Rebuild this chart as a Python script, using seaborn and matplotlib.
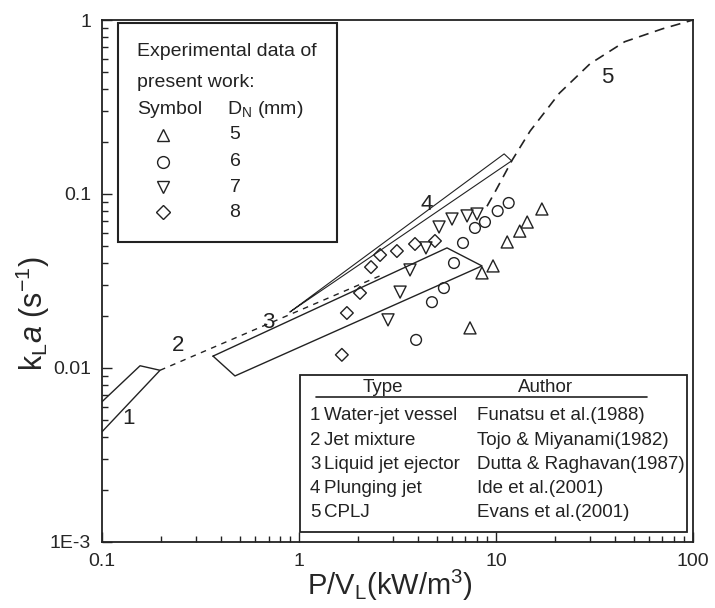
import numpy as np
import pandas as pd
import matplotlib
matplotlib.use("Agg")
import matplotlib.pyplot as plt
import seaborn as sns
from matplotlib.patches import Rectangle
from matplotlib.ticker import FixedLocator, FixedFormatter, LogLocator, NullFormatter

# ---------------- data ----------------
# Experimental data of present work, D_N = 5, 6, 7, 8 mm
tri_up_x = [7.38, 9.66, 8.49, 11.4, 13.2, 14.4, 17.1]
tri_up_y = [0.017, 0.0386, 0.0352, 0.053, 0.0612, 0.069, 0.082]
circ_x = [3.93, 4.73, 5.44, 6.12, 6.80, 7.82, 8.79, 10.2, 11.6]
circ_y = [0.0145, 0.0239, 0.0288, 0.0401, 0.0523, 0.0638, 0.069, 0.0798, 0.0888]
tri_dn_x = [2.83, 3.26, 3.66, 4.41, 5.14, 5.98, 7.13, 8.01]
tri_dn_y = [0.0189, 0.0273, 0.0366, 0.049, 0.0646, 0.0718, 0.0748, 0.0767]
dia_x = [1.65, 1.75, 2.04, 2.32, 2.58, 3.14, 3.88, 4.90]
dia_y = [0.0119, 0.0207, 0.027, 0.038, 0.0446, 0.047, 0.0516, 0.0537]

# Literature correlations (regions / lines)
r1_x = [0.1, 0.156, 0.197, 0.1]
r1_y = [0.0064, 0.0103, 0.0097, 0.0043]
l2_x = [0.197, 2.6]
l2_y = [0.0097, 0.034]
r3_x = [0.366, 5.64, 8.49, 0.473, 0.366]
r3_y = [0.0117, 0.049, 0.0386, 0.0090, 0.0117]
r4_x = [0.9, 11.0, 12.0, 0.9]
r4_y = [0.021, 0.17, 0.155, 0.021]
l5_x = [9.0, 9.9, 12.1, 14.9, 21.0, 30.0, 45.0, 70.0, 100.0]
l5_y = [0.085, 0.103, 0.157, 0.23, 0.38, 0.56, 0.75, 0.89, 1.0]

region_labels = ["1", "2", "3", "4", "5"]
region_label_x = [0.1356, 0.243, 0.697, 4.45, 36.5]
region_label_y = [0.0051, 0.0135, 0.0182, 0.0865, 0.47]

legend_symbols = ["^", "o", "v", "D"]
legend_dn = ["5", "6", "7", "8"]

table_num = ["1", "2", "3", "4", "5"]
table_type = ["Water-jet vessel", "Jet mixture", "Liquid jet ejector",
              "Plunging jet", "CPLJ"]
table_author = ["Funatsu et al.(1988)", "Tojo & Miyanami(1982)",
                "Dutta & Raghavan(1987)", "Ide et al.(2001)", "Evans et al.(2001)"]

x_ticks = [0.1, 1, 10, 100]
x_ticklabels = ["0.1", "1", "10", "100"]
y_ticks = [1e-3, 1e-2, 1e-1, 1]
y_ticklabels = ["1E-3", "0.01", "0.1", "1"]

# ---------------- style ----------------
sns.set_theme(style="ticks")
plt.rcParams["font.family"] = ["Liberation Sans", "DejaVu Sans"]
plt.rcParams["mathtext.fontset"] = "custom"
plt.rcParams["mathtext.rm"] = "Liberation Sans"
plt.rcParams["mathtext.it"] = "Liberation Sans:italic"
plt.rcParams["mathtext.bf"] = "Liberation Sans:bold"
plt.rcParams["text.color"] = "#222222"

fig = plt.figure(figsize=(7.15, 6.08), dpi=100)
ax = fig.add_axes([0.1427, 0.1086, 0.8265, 0.8585])
ax.set_xscale("log")
ax.set_yscale("log")
ax.set_xlim(0.1, 100)
ax.set_ylim(1e-3, 1)

# ---------------- lines ----------------
lk = dict(color="#222222", estimator=None, sort=False, ax=ax, legend=False)
sns.lineplot(x=r1_x, y=r1_y, lw=1.0, **lk)
sns.lineplot(x=l2_x, y=l2_y, lw=1.0, linestyle=(0, (4, 4)), **lk)
sns.lineplot(x=r3_x, y=r3_y, lw=1.0, **lk)
sns.lineplot(x=r4_x, y=r4_y, lw=0.8, **lk)
sns.lineplot(x=l5_x, y=l5_y, lw=1.2, linestyle=(0, (6, 4)), **lk)

# ---------------- points ----------------
groups = [
    (tri_up_x, tri_up_y, "^", 75),
    (circ_x, circ_y, "o", 60),
    (tri_dn_x, tri_dn_y, "v", 75),
    (dia_x, dia_y, "D", 42),
]
for gx, gy, mk, s in groups:
    df = pd.DataFrame({"x": gx, "y": gy})
    sns.scatterplot(data=df, x="x", y="y", marker=mk, s=s, ax=ax,
                    facecolors="none", edgecolors="#222222", linewidths=1.0,
                    legend=False)

# region number labels
for t, xx, yy in zip(region_labels, region_label_x, region_label_y):
    ax.text(xx, yy, t, fontsize=16, ha="center", va="center")

# ---------------- axes styling ----------------
ax.xaxis.set_major_locator(FixedLocator(x_ticks))
ax.xaxis.set_major_formatter(FixedFormatter(x_ticklabels))
ax.yaxis.set_major_locator(FixedLocator(y_ticks))
ax.yaxis.set_major_formatter(FixedFormatter(y_ticklabels))
ax.xaxis.set_minor_locator(LogLocator(base=10, subs=np.arange(2, 10)))
ax.yaxis.set_minor_locator(LogLocator(base=10, subs=np.arange(2, 10)))
ax.xaxis.set_minor_formatter(NullFormatter())
ax.yaxis.set_minor_formatter(NullFormatter())
ax.tick_params(which="both", direction="in", top=False, right=False,
               color="#222222", width=1.0)
ax.tick_params(which="major", length=7, labelsize=14, pad=8)
ax.tick_params(which="minor", length=4)
for sp in ax.spines.values():
    sp.set_linewidth(1.3)
    sp.set_color("#222222")

ax.set_xlabel(r"P/V$_\mathrm{L}$(kW/m$^\mathrm{3}$)", fontsize=21)
ax.set_ylabel(r"k$_\mathrm{L}$$\mathit{a}$ (s$^\mathrm{-1}$)", fontsize=22)
ax.xaxis.set_label_coords(0.487, -0.05)
ax.yaxis.set_label_coords(-0.085, 0.437)

# ---------------- legend box (top-left) ----------------
T = ax.transAxes
ax.add_patch(Rectangle((0.027, 0.575), 0.371, 0.419, transform=T,
                       fill=False, lw=1.5, ec="#222222", zorder=5))
ax.text(0.0592, 0.939, "Experimental data of", transform=T, fontsize=14,
        va="center", ha="left")
ax.text(0.0592, 0.881, "present work:", transform=T, fontsize=14,
        va="center", ha="left")
ax.text(0.0592, 0.828, "Symbol", transform=T, fontsize=14, va="center", ha="left")
ax.text(0.2115, 0.828, r"D$_\mathrm{N}$ (mm)", transform=T, fontsize=14,
        va="center", ha="left")
rows_y = [0.780, 0.728, 0.680, 0.632]
for mk, dn, ry in zip(legend_symbols, legend_dn, rows_y):
    ax.plot([0.103], [ry], transform=T, marker=mk, ms=7 if mk == "D" else 8.5,
            mfc="none", mec="#222222", mew=1.0, ls="none", clip_on=False)
    ax.text(0.225, ry, dn, transform=T, fontsize=14, va="center", ha="center")

# ---------------- table (bottom-right) ----------------
ax.add_patch(Rectangle((0.335, 0.019), 0.655, 0.301, transform=T,
                       fill=False, lw=1.3, ec="#222222", zorder=5))
ax.text(0.475, 0.295, "Type", transform=T, fontsize=13.5, va="center", ha="center")
ax.text(0.75, 0.295, "Author", transform=T, fontsize=13.5, va="center", ha="center")
ax.plot([0.362, 0.922], [0.278, 0.278], transform=T, color="#222222", lw=1.2)
tab_y = [0.243, 0.195, 0.148, 0.103, 0.057]
for n, ty, au, yy in zip(table_num, table_type, table_author, tab_y):
    ax.text(0.352, yy, n, transform=T, fontsize=13.5, va="center", ha="left")
    ax.text(0.376, yy, ty, transform=T, fontsize=13.5, va="center", ha="left")
    ax.text(0.6345, yy, au, transform=T, fontsize=13.5, va="center", ha="left")

fig.savefig("out.png", dpi=100)
